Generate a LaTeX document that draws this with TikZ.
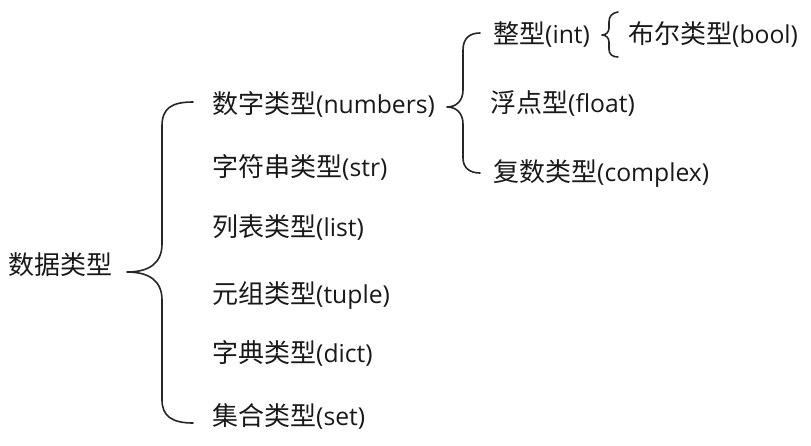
\documentclass[tikz,border=0pt]{standalone}
\usepackage{fontspec}
\setmainfont{Open Sans}[Scale=0.95]
\newfontfamily\cjk{Noto Sans CJK SC}
\begin{document}
\begin{tikzpicture}[x=1pt,y=-1pt,
  lbl/.style={anchor=west,inner sep=0pt,font=\fontsize{26}{30}\selectfont,text=black!90},
  br/.style={line width=1.6pt,black!85,line cap=round,line join=round}]
\useasboundingbox (0,0) rectangle (811,445);
\node[lbl] (root) at (8,265) {\cjk 数据类型};
\node[lbl] (num) at (212,104) {{\cjk 数字类型}(numbers)};
\node[lbl] (str) at (212,167) {{\cjk 字符串类型}(str)};
\node[lbl] (lst) at (212,228) {{\cjk 列表类型}(list)};
\node[lbl] (tup) at (212,296) {{\cjk 元组类型}(tuple)};
\node[lbl] (dct) at (212,353) {{\cjk 字典类型}(dict)};
\node[lbl] (set) at (212,416) {{\cjk 集合类型}(set)};
\node[lbl] (int) at (493,35) {{\cjk 整型}(int)};
\node[lbl] (flt) at (490,104) {{\cjk 浮点型}(float)};
\node[lbl] (cpx) at (493,174) {{\cjk 复数类型}(complex)};
\node[lbl] (bool) at (628,35) {{\cjk 布尔类型}(bool)};
% big brace
\coordinate (b1t) at (193,102);
\coordinate (b1m) at (127,272);
\coordinate (b1b) at (193,423);
\draw[br] (b1t) .. controls (172,102) and (162,108) .. (162,126) -- (162,244)
  .. controls (162,264) and (148,272) .. (b1m)
  .. controls (148,272) and (162,280) .. (162,300) -- (162,400)
  .. controls (162,416) and (172,423) .. (b1b);
% numbers brace
\coordinate (b2t) at (480,33);
\coordinate (b2m) at (447,107);
\coordinate (b2b) at (480,173);
\draw[br] (b2t) .. controls (470,33) and (463,38) .. (463,50) -- (463,90)
  .. controls (463,101) and (456,107) .. (b2m)
  .. controls (456,107) and (463,113) .. (463,124) -- (463,158)
  .. controls (463,168) and (470,173) .. (b2b);
% int brace
\coordinate (b3t) at (618,12);
\coordinate (b3m) at (602,35);
\coordinate (b3b) at (618,57);
\draw[br,line width=1.6pt] (b3t) .. controls (612,13) and (609,16) .. (609,22) -- (609,28)
  .. controls (609,32) and (606,35) .. (b3m)
  .. controls (606,35) and (609,38) .. (609,42) -- (609,49)
  .. controls (609,54) and (612,57) .. (b3b);
\end{tikzpicture}
\end{document}
